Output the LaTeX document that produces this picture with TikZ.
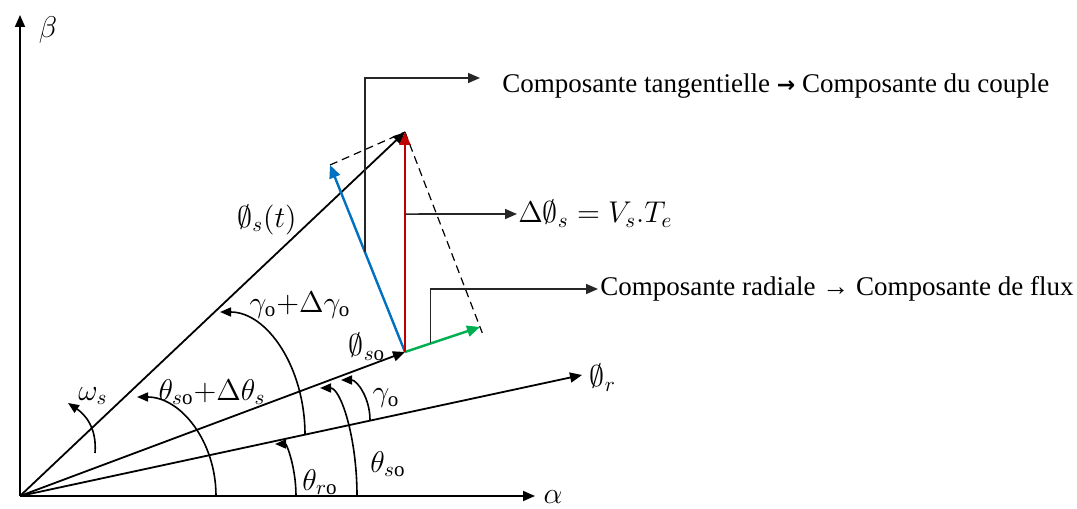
\documentclass[tikz,border=0pt]{standalone}
\usepackage{fix-cm}
\usepackage{amsmath}
\usepackage{fontspec}
\setmainfont{Liberation Serif}
\newfontfamily\arrowfont{DejaVu Sans}
\usetikzlibrary{positioning,calc,arrows.meta}
\definecolor{fluxred}{RGB}{192,0,0}
\definecolor{tanblue}{RGB}{0,112,192}
\definecolor{radgreen}{RGB}{0,176,80}
\tikzset{
  ax/.style  ={-{Triangle[length=6pt,width=5pt]}, draw=black, line width=0.9pt},
  vec/.style ={-{Triangle[length=6pt,width=5pt]}, draw=black, line width=0.9pt},
  comp/.style={-{Triangle[length=6.5pt,width=5.5pt]}, line width=1.2pt},
  dsh/.style ={draw=black, line width=0.6pt, dash pattern=on 4pt off 2.5pt},
  call/.style={-{Triangle[length=6pt,width=5pt]}, draw=black!85, line width=0.8pt},
  ang/.style ={-{Triangle[length=5.5pt,width=4.5pt]}, draw=black, line width=0.8pt},
  lbl/.style ={inner sep=1pt, font=\fontsize{13.5}{16}\selectfont},
  mlbl/.style={inner sep=0.5pt, font=\fontsize{15}{18}\selectfont},
}

\begin{document}
\begin{tikzpicture}[x=0.5pt, y=0.5pt]
\useasboundingbox (0,0) rectangle (1077,509);
% frame and vector ends
\coordinate (O)  at (20,13);
\coordinate (A)  at (535,13);
\coordinate (Bt) at (20,494);
\coordinate (T)  at (405,377);
\coordinate (S0) at (405,157);
\coordinate (R)  at (582,134);
\coordinate (B)  at (330,344);
\coordinate (G)  at (480,182);
\draw[ax] (O) -- (A);
\draw[ax] (O) -- (Bt);
\node[mlbl] (al) at (553,12) {$\alpha$};
\node[mlbl] (bl) at (48,479) {$\beta$};
% flux vectors
\draw[vec] (O) -- (T);
\draw[vec] (O) -- (S0);
\draw[vec] (O) -- (R);
\draw[dsh] (B) -- (T);
\draw[dsh] (T) -- ($(T)!1.03!(G)$);
\draw[comp, draw=tanblue]  (S0) -- (B);
\draw[comp, draw=radgreen] (S0) -- (G);
\draw[comp, draw=fluxred]  (S0) -- (T);
\node[mlbl] (fst) at (267,289) {$\emptyset_s(t)$};
\node[mlbl] (fs0) at (367,162) {$\emptyset_{s\mathrm{o}}$};
\node[mlbl] (fr)  at (603,131) {$\emptyset_r$};
% call-outs
\coordinate (tb) at ($(S0)!0.533!(B)$);
\coordinate (ta) at (480,431);
\node[lbl, anchor=west] (tan) at (500,423) {Composante tangentielle {\arrowfont\bfseries\fontsize{11}{13}\selectfont →} Composante du couple};
\draw[call] (tb) |- (ta);
\coordinate (rm) at ($(S0)!0.627!(T)$);
\node[mlbl, anchor=west] (dlt) at (517,295) {$\Delta\emptyset_s = V_s.T_e$};
\draw[call] (rm) -- (dlt.west);
\coordinate (rb) at ($(S0)!0.34!(G)$);
\node[lbl, anchor=west] (rad) at (598,220) {Composante radiale → Composante de flux};
\draw[call] (rb) |- (rad.west);
% angles
\draw[ang] (216,13) arc[start angle=0, end angle=90, x radius=79, y radius=99];
\draw[ang] (305,74) arc[start angle=0, end angle=90, x radius=85, y radius=123];
\draw[ang] (357,13) arc[start angle=0, end angle=90, x radius=37, y radius=108];
\draw[ang] (370,89) arc[start angle=0, end angle=90, x radius=29, y radius=40];
\draw[ang] (296,13) arc[start angle=0, end angle=90, x radius=21, y radius=52];
\draw[ang] (95,56) .. controls (97,80) and (86,94) .. (68,106);
\node[mlbl] (ws)  at (93,113)  {$\omega_s$};
\node[mlbl] (gdg) at (300,204) {$\gamma_{\mathrm{o}}{+}\Delta\gamma_{\mathrm{o}}$};
\node[mlbl] (tdt) at (212,117) {$\theta_{s\mathrm{o}}{+}\Delta\theta_s$};
\node[mlbl] (ts0) at (388,45)  {$\theta_{s\mathrm{o}}$};
\node[mlbl] (g0)  at (386,111) {$\gamma_{\mathrm{o}}$};
\node[mlbl] (tr0) at (320,27)  {$\theta_{r\mathrm{o}}$};
\end{tikzpicture}
\end{document}
